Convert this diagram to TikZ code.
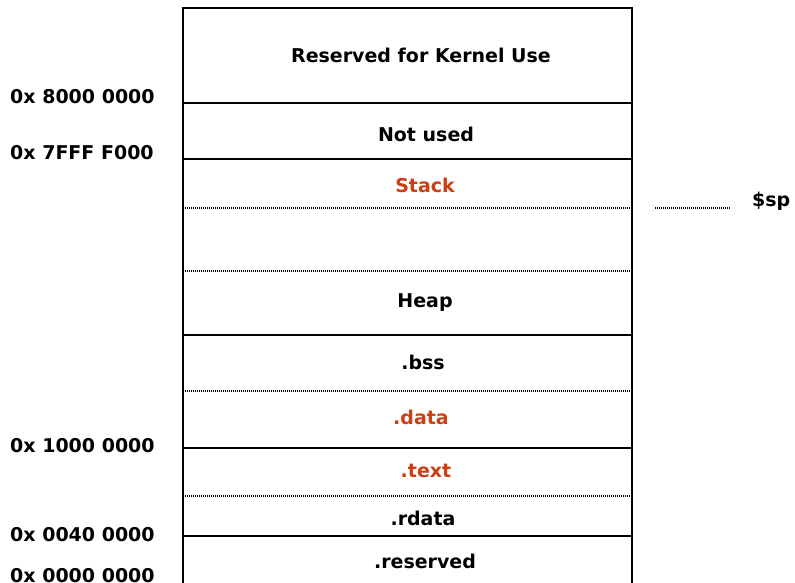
\documentclass[tikz,border=0pt]{standalone}
\usepackage{fontspec}
\setmainfont{DejaVu Sans}
\definecolor{segred}{RGB}{205,62,18}
\begin{document}
\begin{tikzpicture}[x=1pt,y=-1pt,
  solidsep/.style={line width=1.6pt,black},
  dotsep/.style={line width=1.2pt,black,dash pattern=on 1.4pt off 0.6pt},
  seglabel/.style={font=\bfseries\fontsize{19}{21}\selectfont,inner sep=0pt,anchor=center},
  addrlabel/.style={font=\bfseries\fontsize{19}{21}\selectfont,inner sep=0pt,anchor=west},
  redtext/.style={text=segred}]
\useasboundingbox (0,0) rectangle (795,583);
% outer frame of the memory map (no bottom edge, it runs off the page)
\coordinate (tl) at (183,8);
\coordinate (tr) at (632,8);
\coordinate (bl) at (183,585);
\coordinate (br) at (632,585);
\draw[solidsep] (bl) -- (tl) -- (tr) -- (br);
% segment boundaries
\foreach \y in {103,159,335,448,536}
  \draw[solidsep] (183,\y) -- (632,\y);
\foreach \y in {208,271,391,496}
  \draw[dotsep] (183,\y) -- (632,\y);
% segment names
\node[seglabel] (kern) at (421,55) {Reserved for Kernel Use};
\node[seglabel] (nu) at (426,134) {Not used};
\node[seglabel,redtext] (stack) at (425,185) {Stack};
\node[seglabel] (heap) at (425,303) {Heap};
\node[seglabel] (bss) at (423,362) {.bss};
\node[seglabel,redtext] (data) at (421,417) {.data};
\node[seglabel,redtext] (text) at (426,471) {.text};
\node[seglabel] (rdata) at (423,518) {.rdata};
\node[seglabel] (resv) at (425,561) {.reserved};
% addresses on the left
\node[addrlabel] (a1) at (10,97) {0x 8000 0000};
\node[addrlabel] (a2) at (10,153) {0x 7FFF F000};
\node[addrlabel] (a3) at (10,446) {0x 1000 0000};
\node[addrlabel] (a4) at (10,535) {0x 0040 0000};
\node[addrlabel] (a5) at (10,576) {0x 0000 0000};
% stack pointer marker
\node[addrlabel] (sp) at (752,201) {\$sp};
\coordinate (spa) at (655,208);
\coordinate (spb) at (730,208);
\draw[dotsep] (spa) -- (spb);
\end{tikzpicture}
\end{document}
